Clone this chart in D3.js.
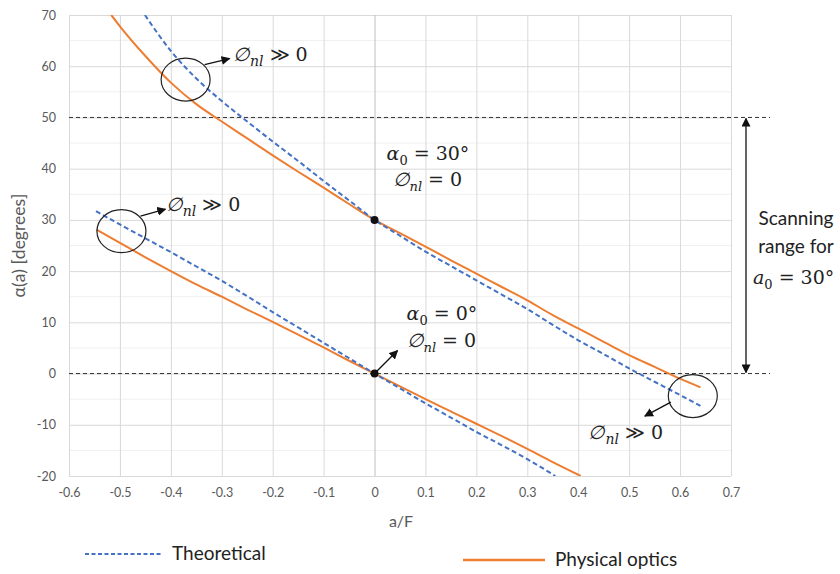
<!DOCTYPE html>
<html>
<head>
<meta charset="utf-8">
<script src="https://cdn.jsdelivr.net/npm/d3@7"></script>
<style>
  body { margin: 0; background: #fff; }
  .tick text { font-family: Lato, "Liberation Sans", sans-serif; fill: #595959; }
  .math { font-family: "DejaVu Serif", "Liberation Serif", serif; fill: #222; }
  .lbl { font-family: Lato, "Liberation Sans", sans-serif; fill: #222; }
</style>
</head>
<body>
<div id="chart"></div>
<script>
// beam direction alpha(a) vs feed offset a/F, two feed tilts
var theoUpper = [[-0.451,70],[-0.4,63.0],[-0.35,57.6],[-0.3,53.2],[-0.25,49.2],[-0.2,45.3],[-0.15,41.5],[-0.1,37.6],[-0.05,33.8],[0,30],
  [0.05,26.9],[0.1,23.8],[0.15,21.0],[0.2,18.2],[0.25,15.4],[0.3,12.6],[0.35,9.5],[0.4,6.5],[0.45,3.8],[0.5,1.0],[0.55,-1.6],[0.6,-4.2],[0.64,-6.3]];
var poUpper = [[-0.517,70],[-0.5,67.8],[-0.45,62.0],[-0.4,56.8],[-0.35,52.6],[-0.3,49.2],[-0.25,45.9],[-0.2,42.6],[-0.15,39.4],[-0.1,36.3],[-0.05,33.1],[0,30],
  [0.05,27.4],[0.1,24.8],[0.15,22.1],[0.2,19.5],[0.25,16.9],[0.3,14.3],[0.35,11.4],[0.4,8.8],[0.45,6.2],[0.5,3.6],[0.55,1.3],[0.6,-1.0],[0.64,-2.7]];
var theoLower = [[-0.547,31.7],[-0.5,29.1],[-0.45,26.4],[-0.4,23.7],[-0.35,20.9],[-0.3,18.1],[-0.25,15.1],[-0.2,12.0],[-0.15,9.0],[-0.1,6.0],[-0.05,3.0],[0,0],
  [0.05,-2.9],[0.1,-5.8],[0.15,-8.6],[0.2,-11.4],[0.25,-14.0],[0.3,-16.7],[0.355,-20]];
var poLower = [[-0.546,28.1],[-0.5,25.5],[-0.45,22.7],[-0.4,20.0],[-0.35,17.4],[-0.3,15.0],[-0.25,12.5],[-0.2,10.1],[-0.15,7.6],[-0.1,5.1],[-0.05,2.5],[0,0],
  [0.05,-2.5],[0.1,-5.0],[0.15,-7.4],[0.2,-9.8],[0.25,-12.2],[0.3,-14.7],[0.35,-17.3],[0.405,-20]];

var xTicks = [-0.6,-0.5,-0.4,-0.3,-0.2,-0.1,0,0.1,0.2,0.3,0.4,0.5,0.6,0.7];
var yTicks = [-20,-10,0,10,20,30,40,50,60,70];
var yMinor = [-15,-5,5,15,25,35,45,55,65];
var scanLimits = [0, 50];
var designPoints = [[0,30],[0,0]];

var margin = { top: 15, right: 109, bottom: 98, left: 69 },
  width = 840 - margin.left - margin.right,
  height = 574 - margin.top - margin.bottom;

var svg = d3.select("#chart").append("svg")
  .attr("width", 840).attr("height", 574)
  .append("g")
  .attr("transform", "translate(" + margin.left + "," + margin.top + ")");

var x = d3.scaleLinear().domain([-0.6, 0.7]).range([0, width]);
var y = d3.scaleLinear().domain([-20, 70]).range([height, 0]);

var defs = svg.append("defs");
defs.append("clipPath").attr("id", "plotclip").append("rect")
  .attr("x", 0).attr("y", 0).attr("width", width).attr("height", height);
defs.append("marker").attr("id", "head")
  .attr("viewBox", "0 0 10 10").attr("refX", 9).attr("refY", 5)
  .attr("markerWidth", 9).attr("markerHeight", 9).attr("markerUnits", "userSpaceOnUse")
  .attr("orient", "auto-start-reverse")
  .append("path").attr("d", "M0,0 L10,5 L0,10 z").attr("fill", "#111");

// minor horizontal grid
svg.append("g").selectAll("line").data(yMinor).join("line")
  .attr("x1", 0).attr("x2", width).attr("y1", d => y(d)).attr("y2", d => y(d))
  .attr("stroke", "#f0f0f0").attr("stroke-width", 1);

var hyphen = s => s.replace("\u2212", "-");

// major grid + tick labels
svg.append("g")
  .call(d3.axisLeft(y).tickValues(yTicks).tickSize(-width).tickPadding(13).tickFormat(d => hyphen(d3.format("d")(d))))
  .call(g => g.select(".domain").remove())
  .call(g => g.selectAll(".tick line").attr("stroke", "#d9d9d9"))
  .style("font-size", "12.5px");

svg.append("g")
  .attr("transform", "translate(0," + height + ")")
  .call(d3.axisBottom(x).tickValues(xTicks).tickSize(-height).tickPadding(12)
    .tickFormat(d => d === 0 ? "0" : hyphen(d3.format(".1f")(d))))
  .call(g => g.select(".domain").remove())
  .call(g => g.selectAll(".tick line").attr("stroke", d => d === 0 ? "#bfbfbf" : "#d9d9d9"))
  .style("font-size", "12.5px");

svg.append("text").attr("class", "lbl")
  .attr("x", width / 2 + 1).attr("y", height + 51)
  .attr("text-anchor", "middle").style("font-size", "16px").style("fill", "#595959")
  .text("a/F");

svg.append("text").attr("class", "lbl")
  .attr("transform", "rotate(-90)")
  .attr("x", -y(25)).attr("y", -44)
  .attr("text-anchor", "middle").style("font-size", "17.5px").style("fill", "#595959")
  .text("α(a) [degrees]");

// scan range limits
svg.append("g").selectAll("line").data(scanLimits).join("line")
  .attr("x1", 0).attr("x2", width + 39).attr("y1", d => y(d)).attr("y2", d => y(d))
  .attr("stroke", "#333").attr("stroke-width", 1).attr("stroke-dasharray", "4,3");

var line = d3.line().x(d => x(d[0])).y(d => y(d[1])).curve(d3.curveMonotoneX);
var plot = svg.append("g").attr("clip-path", "url(#plotclip)");

[poUpper, poLower].forEach(function (s) {
  plot.append("path").datum(s).attr("fill", "none")
    .attr("stroke", "#ED7D31").attr("stroke-width", 2).attr("d", line);
});
[theoUpper, theoLower].forEach(function (s) {
  plot.append("path").datum(s).attr("fill", "none")
    .attr("stroke", "#4472C4").attr("stroke-width", 2).attr("stroke-dasharray", "5,3").attr("d", line);
});

svg.append("g").selectAll("circle").data(designPoints).join("circle")
  .attr("cx", d => x(d[0])).attr("cy", d => y(d[1])).attr("r", 4).attr("fill", "#111");

// non-linear regions: ring, pointer (start offset, vector), label position
var rings = [
  { a: -0.371, v: 57.4, sx: 19, sy: -15, dx: 25, dy: -6, tx: -0.278, ty: 61.0 },
  { a: -0.497, v: 27.8, sx: 19, sy: -15, dx: 25, dy: -7, tx: -0.41, ty: 31.8 },
  { a: 0.625, v: -4.4, sx: -22, sy: 6, dx: -26, dy: 14, tx: 0.42, ty: -12.8 }
];
rings.forEach(function (r) {
  var cx = x(r.a), cy = y(r.v);
  svg.append("ellipse").attr("cx", cx).attr("cy", cy).attr("rx", 24.5).attr("ry", 21.5)
    .attr("fill", "none").attr("stroke", "#222").attr("stroke-width", 1.2);
  svg.append("line").attr("x1", cx + r.sx).attr("y1", cy + r.sy)
    .attr("x2", cx + r.sx + r.dx).attr("y2", cy + r.sy + r.dy)
    .attr("stroke", "#111").attr("stroke-width", 1.3).attr("marker-end", "url(#head)");
  var t = svg.append("text").attr("class", "math").attr("x", x(r.tx)).attr("y", y(r.ty)).style("font-size", "19px");
  t.append("tspan").style("font-style", "italic").text("∅");
  t.append("tspan").style("font-style", "italic").style("font-size", "14px").attr("dy", 5).text("nl");
  t.append("tspan").attr("dy", -5).text(" ≫ 0");
});

function mathLabel(px, py, first, sub, rest) {
  var t = svg.append("text").attr("class", "math").attr("x", px).attr("y", py).style("font-size", "19px");
  t.append("tspan").style("font-style", "italic").text(first);
  t.append("tspan").style("font-size", "13px").style("font-style", sub === "0" ? "normal" : "italic").attr("dy", 5).text(sub);
  t.append("tspan").attr("dy", -5).text(rest);
}

mathLabel(x(0) + 12, y(41.7), "α", "0", " = 30°");
mathLabel(x(0) + 18, y(36.6), "∅", "nl", " = 0");
mathLabel(x(0) + 32, y(10.4), "α", "0", " = 0°");
mathLabel(x(0) + 32, y(5.2), "∅", "nl", " = 0");

svg.append("line")
  .attr("x1", x(0)).attr("y1", y(0)).attr("x2", x(0) + 23).attr("y2", y(0) - 23)
  .attr("stroke", "#111").attr("stroke-width", 1.3).attr("marker-end", "url(#head)");

// scanning range arrow
svg.append("line")
  .attr("x1", width + 15).attr("x2", width + 15).attr("y1", y(50) + 1).attr("y2", y(0) - 1)
  .attr("stroke", "#111").attr("stroke-width", 1.3)
  .attr("marker-start", "url(#head)").attr("marker-end", "url(#head)");

svg.append("text").attr("class", "lbl").attr("x", width + 65).attr("y", y(30) + 5)
  .attr("text-anchor", "middle").style("font-size", "19px").text("Scanning");
svg.append("text").attr("class", "lbl").attr("x", width + 65).attr("y", y(24.6) + 5)
  .attr("text-anchor", "middle").style("font-size", "19px").text("range for");
mathLabel(width + 22, y(18.5) + 5, "a", "0", " = 30°");

// legend
var lg = svg.append("g").attr("transform", "translate(" + (-margin.left) + "," + (height + 78) + ")");
lg.append("line").attr("x1", 85).attr("x2", 163).attr("y1", 0).attr("y2", 0)
  .attr("stroke", "#4472C4").attr("stroke-width", 2).attr("stroke-dasharray", "4,2.5");
lg.append("text").attr("class", "lbl").attr("x", 172).attr("y", 6).style("font-size", "19px").text("Theoretical");
lg.append("line").attr("x1", 463).attr("x2", 545).attr("y1", 6).attr("y2", 6)
  .attr("stroke", "#ED7D31").attr("stroke-width", 2.5);
lg.append("text").attr("class", "lbl").attr("x", 555).attr("y", 12).style("font-size", "19px").text("Physical optics");
</script>
</body>
</html>
